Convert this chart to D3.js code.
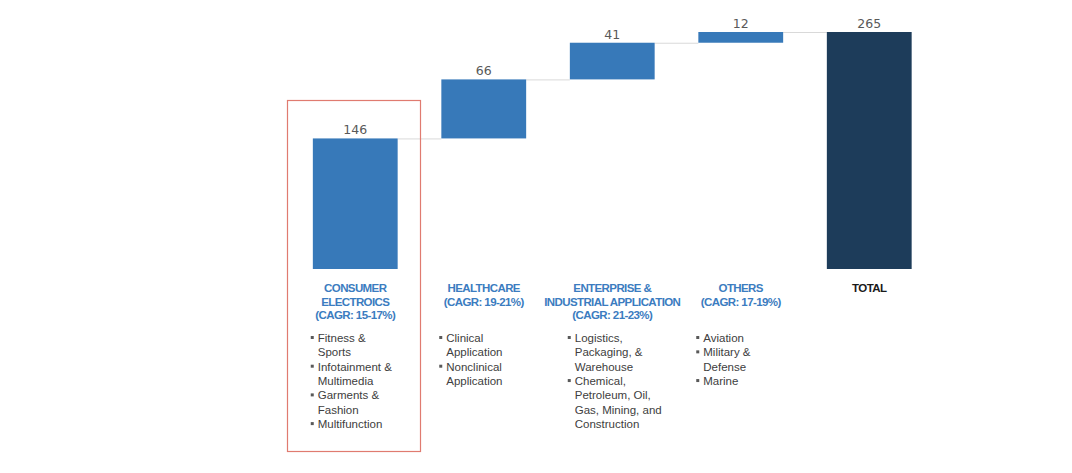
<!DOCTYPE html>
<html><head><meta charset="utf-8">
<script src="https://cdn.jsdelivr.net/npm/d3@7"></script>
<style>
html,body{margin:0;padding:0;background:#fff;}
svg{display:block;}
</style></head>
<body>
<svg id="chart" width="1072" height="473"></svg>
<script>
const categories = ["CONSUMER ELECTROICS", "HEALTHCARE", "ENTERPRISE & INDUSTRIAL APPLICATION", "OTHERS", "TOTAL"];
const values = [146, 66, 41, 12, 265];
const isTotal = [false, false, false, false, true];
const headerLines = [
  ["CONSUMER", "ELECTROICS", "(CAGR: 15-17%)"],
  ["HEALTHCARE", "(CAGR: 19-21%)"],
  ["ENTERPRISE &", "INDUSTRIAL APPLICATION", "(CAGR: 21-23%)"],
  ["OTHERS", "(CAGR: 17-19%)"],
  ["TOTAL"]
];
const bulletItems = [
  [["Fitness &", "Sports"], ["Infotainment &", "Multimedia"], ["Garments &", "Fashion"], ["Multifunction"]],
  [["Clinical", "Application"], ["Nonclinical", "Application"]],
  [["Logistics,", "Packaging, &", "Warehouse"], ["Chemical,", "Petroleum, Oil,", "Gas, Mining, and", "Construction"]],
  [["Aviation"], ["Military &", "Defense"], ["Marine"]],
  []
];

// build waterfall segments
let cum = 0;
const segs = categories.map((c, i) => {
  let s;
  if (isTotal[i]) s = {c, v: values[i], y0: 0, y1: values[i], total: true};
  else { s = {c, v: values[i], y0: cum, y1: cum + values[i], total: false}; cum += values[i]; }
  return s;
});

const svg = d3.select("#chart");
const x = d3.scaleBand().domain(categories).range([291, 933.5]).paddingInner(0.34).paddingOuter(0.17);
const y = d3.scaleLinear().domain([0, 265]).range([269, 32]);

// connectors
for (let i = 0; i < segs.length - 1; i++) {
  svg.append("line")
    .attr("x1", x(segs[i].c) + x.bandwidth())
    .attr("x2", x(segs[i + 1].c))
    .attr("y1", y(segs[i].y1) + 0.5).attr("y2", y(segs[i].y1) + 0.5)
    .attr("stroke", "#d9d9d9").attr("stroke-width", 1);
}

// bars
svg.selectAll("rect.bar").data(segs).enter().append("rect")
  .attr("class", "bar")
  .attr("x", d => x(d.c))
  .attr("width", x.bandwidth())
  .attr("y", d => y(d.y1))
  .attr("height", d => y(d.y0) - y(d.y1))
  .attr("fill", d => d.total ? "#1d3c5a" : "#3779b9");

// value labels
svg.selectAll("text.val").data(segs).enter().append("text")
  .attr("class", "val")
  .attr("x", d => x(d.c) + x.bandwidth() / 2)
  .attr("y", d => y(d.y1) - 4)
  .attr("text-anchor", "middle")
  .attr("font-family", "'DejaVu Sans', Verdana, sans-serif")
  .attr("font-size", 12.5)
  .attr("fill", "#595959")
  .text(d => d.v);

// headers
segs.forEach((d, i) => {
  const cx = x(d.c) + x.bandwidth() / 2;
  headerLines[i].forEach((ln, j) => {
    svg.append("text")
      .attr("x", cx).attr("y", 292 + j * 13.5)
      .attr("text-anchor", "middle")
      .attr("font-family", "'Liberation Sans', Arial, sans-serif")
      .attr("font-weight", "bold")
      .attr("font-size", 11.5)
      .attr("letter-spacing", -0.6)
      .attr("fill", d.total ? "#1a1a1a" : "#3b7cc0")
      .text(ln);
  });
  // bullets
  let line = 0;
  bulletItems[i].forEach(item => {
    const by = 342 + line * 14.35;
    svg.append("rect")
      .attr("x", cx - 44.5).attr("y", by - 6)
      .attr("width", 3).attr("height", 3)
      .attr("fill", "#595959");
    item.forEach((t, k) => {
      svg.append("text")
        .attr("x", cx - 37.5).attr("y", by + k * 14.35)
        .attr("font-family", "'Liberation Sans', Arial, sans-serif")
        .attr("font-size", 11.5)
        .attr("fill", "#404040")
        .text(t);
    });
    line += item.length;
  });
});

// highlight box around the first category
svg.append("rect")
  .attr("x", 287.5).attr("y", 100.5)
  .attr("width", 133).attr("height", 351)
  .attr("fill", "none")
  .attr("stroke", "#e07b70")
  .attr("stroke-width", 1.2);
</script>
</body></html>
